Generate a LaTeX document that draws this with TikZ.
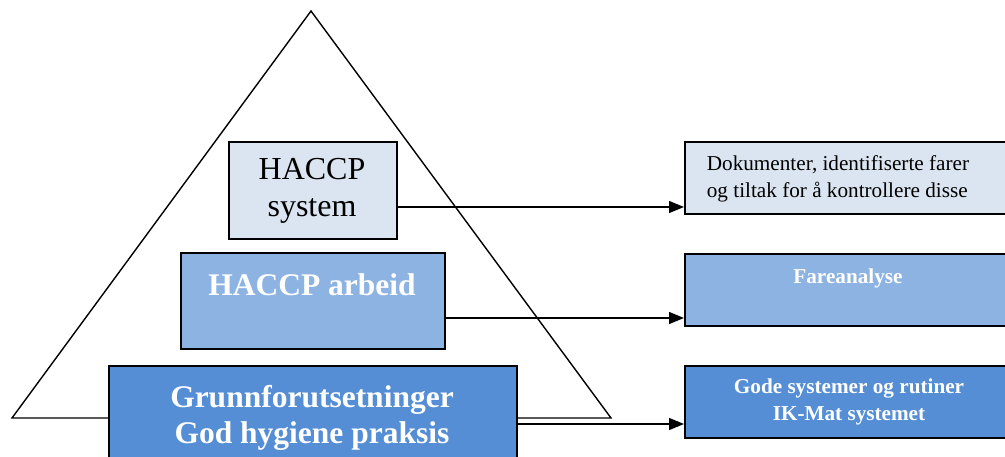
\documentclass[tikz,border=0pt]{standalone}
\usepackage{fontspec}
\setmainfont{Liberation Serif}
\usetikzlibrary{arrows.meta}
\definecolor{lightb}{HTML}{DBE5F1}
\definecolor{midb}{HTML}{8DB3E2}
\definecolor{darkb}{HTML}{558ED5}
\begin{document}
\begin{tikzpicture}[x=1pt,y=-1pt,
  box/.style={draw=black,line width=1.8pt,rectangle,inner sep=0pt,anchor=north west},
  conn/.style={line width=1.3pt,-{Triangle[length=15pt,width=12pt]}},
  big/.style={font=\fontsize{32}{37}\selectfont,align=center,inner sep=0pt},
  bigw/.style={font=\fontsize{31.5}{36}\selectfont\bfseries,text=white,align=center,inner sep=0pt},
  small/.style={font=\fontsize{21.2}{27.5}\selectfont,align=left,inner sep=0pt},
  smallw/.style={font=\fontsize{21.2}{27}\selectfont\bfseries,text=white,align=center,inner sep=0pt}]
\useasboundingbox (0,0) rectangle (1005,457);
\clip (0,0) rectangle (1005,457);
% triangle
\coordinate (apex) at (311,11);
\coordinate (bl) at (12,418);
\coordinate (br) at (611,418);
\draw[line width=1.4pt,line join=miter] (bl) -- (apex) -- (br) -- cycle;
% left boxes
\node[box,fill=lightb,minimum width=168pt,minimum height=97pt] (sys) at (228,141) {};
\node[big] (systxt) at (312,191) {HACCP\\system};
\node[box,fill=midb,minimum width=264pt,minimum height=96pt] (arb) at (180,252) {};
\node[bigw] (arbtxt) at (312,285) {HACCP arbeid};
\node[box,fill=darkb,minimum width=408pt,minimum height=110pt] (gru) at (108,365) {};
\node[bigw] (grutxt) at (312,418) {Grunnforutsetninger\\God hygiene praksis};
% right boxes
\node[box,fill=lightb,minimum width=330pt,minimum height=72pt] (doc) at (684,141) {};
\node[small] (doctxt) at (838,179) {Dokumenter, identifiserte farer\\og tiltak for å kontrollere disse};
\node[box,fill=midb,minimum width=330pt,minimum height=72pt] (far) at (684,253) {};
\node[smallw] (fartxt) at (848,278) {Fareanalyse};
\node[box,fill=darkb,minimum width=330pt,minimum height=72pt] (ik) at (684,365) {};
\node[smallw] (iktxt) at (849,402) {Gode systemer og rutiner\\IK-Mat systemet};
% connectors
\coordinate (y1) at (0,207);
\coordinate (y2) at (0,318);
\coordinate (y3) at (0,424);
\draw[conn] (sys.east |- y1) -- (doc.west |- y1);
\draw[conn] (arb.east |- y2) -- (far.west |- y2);
\draw[conn] (gru.east |- y3) -- (ik.west |- y3);
\end{tikzpicture}
\end{document}
